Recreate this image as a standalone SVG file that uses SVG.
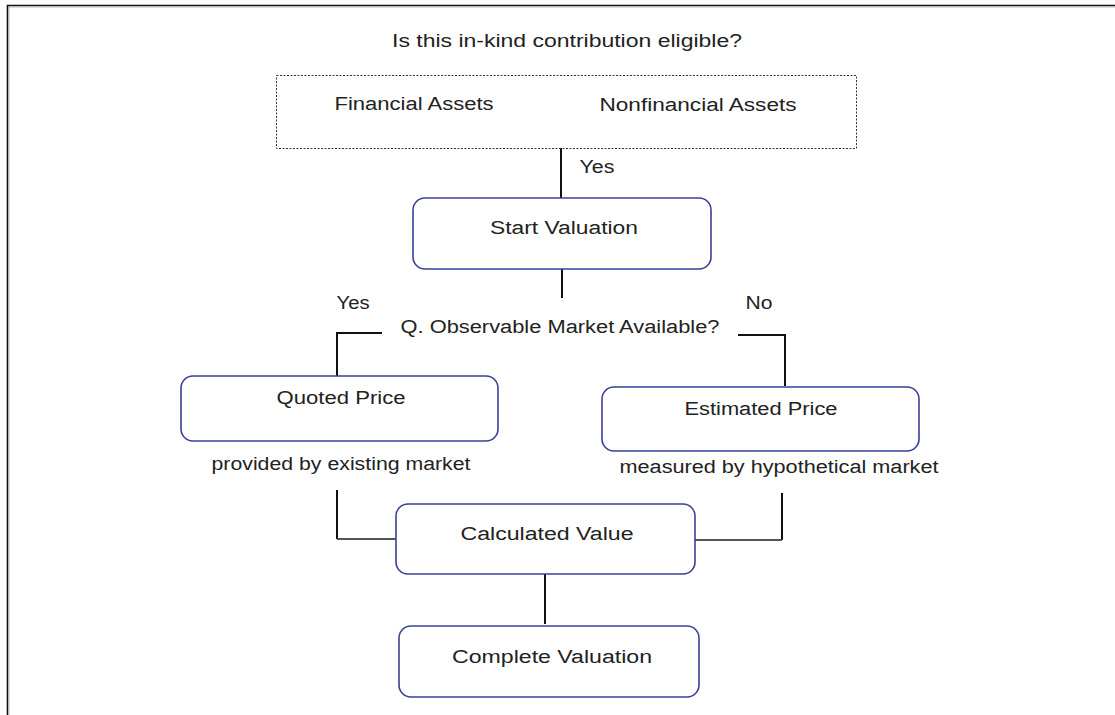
<svg xmlns="http://www.w3.org/2000/svg" width="1115" height="715" viewBox="0 0 1115 715">
<style>
.t{font-family:"Liberation Sans",Arial,sans-serif;font-size:18px;fill:#222;text-anchor:middle}
.box{fill:#fff;stroke:#3b3f98;stroke-width:1.6}
.c{stroke:#111;stroke-width:2;fill:none}
.c2{stroke:#555;stroke-width:2;fill:none}
</style>
<rect width="1115" height="715" fill="#fff"/>
<path d="M7.5 715 V5.5 H1115" fill="none" stroke="#111" stroke-width="1.6"/>
<path d="M9 715 V7 H1115" fill="none" stroke="#aaa" stroke-width="0.8"/>
<text class="t" x="567" y="47" textLength="350" lengthAdjust="spacingAndGlyphs">Is this in-kind contribution eligible?</text>
<g id="connectors">
<line class="c" x1="561" y1="148" x2="561" y2="198"/>
<line class="c" x1="562" y1="269" x2="562" y2="298"/>
<polyline class="c" points="382,333 337,333 337,376"/>
<polyline class="c" points="738,335 785,335 785,386"/>
<polyline class="c" points="337,490 337,539"/>
<line class="c2" x1="337" y1="539" x2="396" y2="539"/>
<polyline class="c" points="782,493 782,540"/>
<line class="c2" x1="695" y1="540" x2="782" y2="540"/>
<line class="c" x1="545" y1="574" x2="545" y2="624"/>
<text class="t" x="597" y="173" textLength="35" lengthAdjust="spacingAndGlyphs">Yes</text>
<text class="t" x="353" y="309" textLength="33" lengthAdjust="spacingAndGlyphs">Yes</text>
<text class="t" x="759" y="309" textLength="27" lengthAdjust="spacingAndGlyphs">No</text>
<text class="t" x="560" y="333" textLength="319" lengthAdjust="spacingAndGlyphs">Q. Observable Market Available?</text>
</g>
<g id="assets">
<rect x="276.5" y="75.5" width="580" height="73" fill="none" stroke="#333" stroke-width="1" stroke-dasharray="2,1.5"/>
<text class="t" x="414" y="110" textLength="159" lengthAdjust="spacingAndGlyphs">Financial Assets</text>
<text class="t" x="698" y="111" textLength="197" lengthAdjust="spacingAndGlyphs">Nonfinancial Assets</text>
</g>
<g id="start">
<rect class="box" x="413" y="198" width="298" height="71" rx="12"/>
<text class="t" x="564" y="234" textLength="148" lengthAdjust="spacingAndGlyphs">Start Valuation</text>
</g>
<g id="quoted">
<rect class="box" x="181" y="376" width="317" height="65" rx="12"/>
<text class="t" x="341" y="404" textLength="129" lengthAdjust="spacingAndGlyphs">Quoted Price</text>
<text class="t" x="341" y="470" textLength="259" lengthAdjust="spacingAndGlyphs">provided by existing market</text>
</g>
<g id="estimated">
<rect class="box" x="602" y="387" width="317" height="64" rx="12"/>
<text class="t" x="761" y="415" textLength="153" lengthAdjust="spacingAndGlyphs">Estimated Price</text>
<text class="t" x="779" y="473" textLength="319" lengthAdjust="spacingAndGlyphs">measured by hypothetical market</text>
</g>
<g id="calculated">
<rect class="box" x="396" y="504" width="299" height="70" rx="12"/>
<text class="t" x="547" y="540" textLength="173" lengthAdjust="spacingAndGlyphs">Calculated Value</text>
</g>
<g id="complete">
<rect class="box" x="399" y="626" width="300" height="71" rx="12"/>
<text class="t" x="552" y="663" textLength="200" lengthAdjust="spacingAndGlyphs">Complete Valuation</text>
</g>
</svg>
